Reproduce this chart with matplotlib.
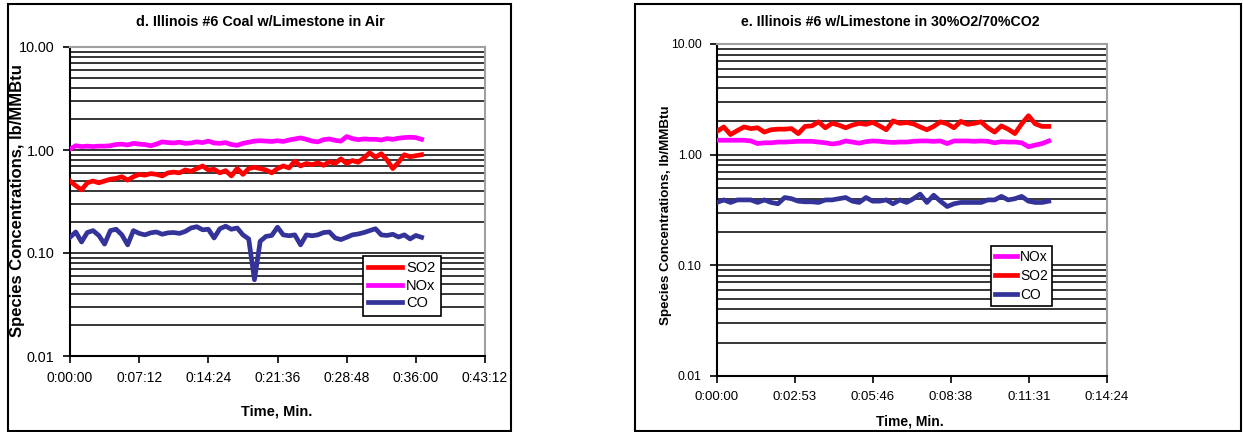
import numpy as np
import matplotlib
matplotlib.use("Agg")
import matplotlib.pyplot as plt
from matplotlib.patches import Rectangle
from matplotlib.ticker import FixedLocator, NullFormatter

plt.rcParams['font.family'] = ['Liberation Sans', 'DejaVu Sans']

# ---- panel d: Illinois #6 coal w/limestone in air (time in minutes) ----
t_d = [0.6 * i for i in range(62)]
so2_d = [0.50, 0.45, 0.41, 0.48, 0.50, 0.48, 0.50, 0.52, 0.53, 0.55,
         0.51, 0.55, 0.58, 0.57, 0.59, 0.58, 0.56, 0.60, 0.61, 0.60,
         0.64, 0.62, 0.66, 0.70, 0.64, 0.65, 0.60, 0.63, 0.56, 0.66,
         0.58, 0.66, 0.68, 0.66, 0.64, 0.60, 0.66, 0.70, 0.67, 0.78,
         0.70, 0.74, 0.72, 0.75, 0.71, 0.77, 0.74, 0.82, 0.74, 0.79,
         0.76, 0.84, 0.94, 0.85, 0.92, 0.80, 0.66, 0.76, 0.90, 0.86,
         0.88, 0.90]
nox_d = [1.02, 1.10, 1.08, 1.09, 1.08, 1.09, 1.09, 1.10, 1.13, 1.14,
         1.12, 1.16, 1.14, 1.13, 1.10, 1.14, 1.20, 1.18, 1.17, 1.19,
         1.16, 1.17, 1.20, 1.18, 1.22, 1.17, 1.16, 1.18, 1.13, 1.11,
         1.16, 1.19, 1.22, 1.23, 1.22, 1.21, 1.23, 1.21, 1.25, 1.28,
         1.31, 1.27, 1.22, 1.20, 1.26, 1.28, 1.24, 1.22, 1.35, 1.29,
         1.26, 1.28, 1.27, 1.27, 1.25, 1.29, 1.27, 1.30, 1.32, 1.33,
         1.32, 1.27]
co_d = [0.142, 0.160, 0.128, 0.158, 0.165, 0.148, 0.122, 0.165, 0.170, 0.150,
        0.120, 0.165, 0.155, 0.150, 0.157, 0.160, 0.152, 0.157, 0.158, 0.155,
        0.162, 0.175, 0.180, 0.168, 0.170, 0.140, 0.172, 0.182, 0.170, 0.175,
        0.150, 0.137, 0.055, 0.130, 0.145, 0.148, 0.178, 0.150, 0.147, 0.150,
        0.120, 0.150, 0.147, 0.150, 0.158, 0.160, 0.140, 0.135, 0.142, 0.150,
        0.153, 0.158, 0.165, 0.172, 0.150, 0.148, 0.152, 0.143, 0.150, 0.137,
        0.148, 0.142]
ticks_d = ["0:00:00", "0:07:12", "0:14:24", "0:21:36", "0:28:48", "0:36:00", "0:43:12"]

# ---- panel e: Illinois #6 w/limestone in 30%O2/70%CO2 (time in seconds) ----
t_e = [15 * i for i in range(50)]
so2_e = [1.62, 1.78, 1.52, 1.65, 1.78, 1.72, 1.75, 1.60, 1.68, 1.70,
         1.70, 1.72, 1.55, 1.80, 1.82, 1.98, 1.75, 1.92, 1.85, 1.75,
         1.85, 1.92, 1.88, 1.96, 1.82, 1.68, 2.02, 1.92, 1.95, 1.90,
         1.78, 1.68, 1.80, 1.98, 1.90, 1.75, 2.00, 1.88, 1.92, 1.98,
         1.75, 1.60, 1.82, 1.70, 1.55, 1.90, 2.25, 1.90, 1.80, 1.80]
nox_e = [1.35, 1.35, 1.35, 1.35, 1.35, 1.33, 1.26, 1.28, 1.28, 1.30,
         1.30, 1.31, 1.32, 1.32, 1.32, 1.30, 1.28, 1.25, 1.27, 1.33,
         1.30, 1.27, 1.31, 1.33, 1.32, 1.30, 1.29, 1.30, 1.30, 1.32,
         1.33, 1.33, 1.32, 1.33, 1.26, 1.33, 1.33, 1.33, 1.32, 1.33,
         1.32, 1.28, 1.31, 1.30, 1.30, 1.28, 1.18, 1.22, 1.26, 1.33]
co_e = [0.37, 0.39, 0.37, 0.39, 0.39, 0.39, 0.37, 0.39, 0.37, 0.36,
        0.41, 0.40, 0.38, 0.375, 0.375, 0.37, 0.39, 0.39, 0.40, 0.41,
        0.38, 0.37, 0.41, 0.38, 0.38, 0.39, 0.36, 0.39, 0.37, 0.40,
        0.44, 0.37, 0.43, 0.38, 0.34, 0.36, 0.37, 0.37, 0.37, 0.37,
        0.39, 0.39, 0.42, 0.39, 0.40, 0.42, 0.38, 0.37, 0.37, 0.38]
ticks_e = ["0:00:00", "0:02:53", "0:05:46", "0:08:38", "0:11:31", "0:14:24"]

RED, MAG, NAVY = "#FF0000", "#FF00FF", "#333399"
W, H = 1243, 432


def fx(px):
    return px / W


def fy(py):
    return 1 - py / H


def style_axes(ax, xmax, xticks, xlabels, ysize, xsize):
    ax.set_yscale("log")
    ax.set_ylim(0.01, 10)
    ax.set_xlim(0, xmax)
    minors = [m * 10.0 ** e for e in (-2, -1, 0) for m in range(2, 10)]
    ax.yaxis.set_minor_locator(FixedLocator(minors))
    ax.yaxis.set_minor_formatter(NullFormatter())
    ax.set_yticks([0.01, 0.1, 1, 10])
    ax.set_yticklabels(["0.01", "0.10", "1.00", "10.00"], fontsize=ysize)
    for v in minors + [0.1, 1]:
        ax.axhline(v, color="black", lw=1.1, zorder=1)
    ax.set_xticks(xticks)
    ax.set_xticklabels(xlabels, fontsize=xsize)
    ax.tick_params(axis="y", which="minor", length=0)
    ax.tick_params(axis="both", which="major", direction="out", length=5, width=1.2, pad=6)
    for s in ("top", "right"):
        ax.spines[s].set_color("#a0a0a0")
        ax.spines[s].set_linewidth(1.5)
    for s in ("left", "bottom"):
        ax.spines[s].set_linewidth(1.5)


fig = plt.figure(figsize=(W / 100, H / 100), dpi=100)

# panel borders
fig.patches.append(Rectangle((fx(8), fy(431)), fx(503), 427 / H, transform=fig.transFigure,
                             fill=False, ec="black", lw=1.5))
fig.patches.append(Rectangle((fx(635), fy(431)), fx(606), 427 / H, transform=fig.transFigure,
                             fill=False, ec="black", lw=1.5))

# ---- left ----
ax1 = fig.add_axes([fx(70), fy(356), fx(415), 309 / H])
style_axes(ax1, 43.2, [0, 7.2, 14.4, 21.6, 28.8, 36.0, 43.2], ticks_d, 10.4, 10)
l1, = ax1.plot(t_d, so2_d, color=RED, lw=3.4, zorder=3, label="SO2")
l2, = ax1.plot(t_d, nox_d, color=MAG, lw=3.4, zorder=3, label="NOx")
l3, = ax1.plot(t_d, co_d, color=NAVY, lw=3.4, zorder=3, label="CO")
fig.text(fx(260), fy(22), "d. Illinois #6 Coal w/Limestone in Air", ha="center", va="center",
         fontsize=10.4, fontweight="bold")
fig.text(fx(18), fy(201), "Species Concentrations, lb/MMBtu", rotation=90, ha="center", va="center",
         fontsize=12, fontweight="bold")
fig.text(fx(277), fy(411), "Time, Min.", ha="center", va="center", fontsize=10.5, fontweight="bold")
lg = ax1.legend(handles=[l1, l2, l3], loc="upper left", bbox_to_anchor=(fx(363), fy(256)),
                bbox_transform=fig.transFigure, fancybox=False, edgecolor="black", fontsize=10.5,
                handlelength=2.3, handletextpad=0.3, borderpad=0.35, labelspacing=0.25,
                borderaxespad=0, framealpha=1)
lg.get_frame().set_linewidth(1.2)
lg.set_zorder(5)

# ---- right ----
ax2 = fig.add_axes([fx(717), fy(376), fx(390), 332 / H])
style_axes(ax2, 864, [0, 172.8, 345.6, 518.4, 691.2, 864], ticks_e, 8.8, 9.5)
r1, = ax2.plot(t_e, nox_e, color=MAG, lw=3.4, zorder=3, label="NOx")
r2, = ax2.plot(t_e, so2_e, color=RED, lw=3.4, zorder=3, label="SO2")
r3, = ax2.plot(t_e, co_e, color=NAVY, lw=3.4, zorder=3, label="CO")
fig.text(fx(890), fy(22), "e. Illinois #6 w/Limestone in 30%O2/70%CO2", ha="center", va="center",
         fontsize=10.2, fontweight="bold")
fig.text(fx(666), fy(215), "Species Concentrations, lb/MMBtu", rotation=90, ha="center", va="center",
         fontsize=9.6, fontweight="bold")
fig.text(fx(910), fy(421), "Time, Min.", ha="center", va="center", fontsize=10, fontweight="bold")
lg2 = ax2.legend(handles=[r1, r2, r3], loc="upper left", bbox_to_anchor=(fx(991), fy(246)),
                 bbox_transform=fig.transFigure, fancybox=False, edgecolor="black", fontsize=10,
                 handlelength=1.6, handletextpad=0.2, borderpad=0.3, labelspacing=0.35,
                 borderaxespad=0, framealpha=1)
lg2.get_frame().set_linewidth(1.2)
lg2.set_zorder(5)

fig.savefig("out.png", dpi=100)
